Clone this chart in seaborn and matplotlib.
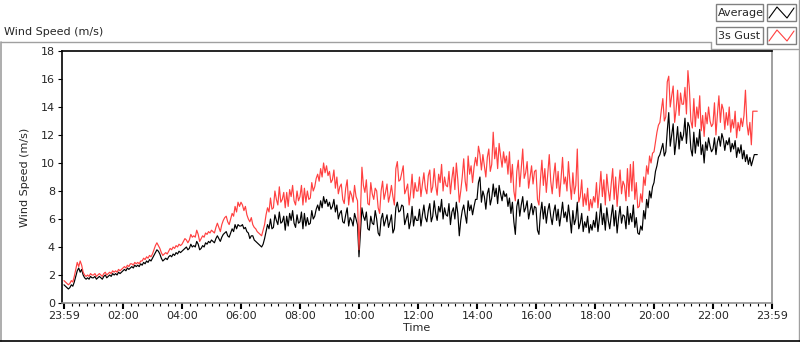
import numpy as np
import pandas as pd
import matplotlib
matplotlib.use("Agg")
import matplotlib.pyplot as plt
from matplotlib.patches import Rectangle
import seaborn as sns

# Wind speed record, one reading every 3 minutes starting 23:59
sample_step_min = 3

avg_speed = [
    1.3, 1.2, 1.1, 1.0, 1.1, 1.3, 1.2, 1.5, 1.9, 2.3, 2.5, 2.2, 2.4, 2.0, 1.8, 1.7, 1.8, 1.7, 1.9, 1.8,   # 00h
    1.8, 1.9, 1.7, 1.8, 1.9, 1.8, 1.7, 1.9, 2.0, 1.8, 1.9, 2.0, 1.9, 2.1, 2.0, 2.1, 2.0, 2.2, 2.1, 2.2,   # 01h
    2.3, 2.4, 2.3, 2.5, 2.4, 2.5, 2.6, 2.5, 2.7, 2.6, 2.7, 2.6, 2.8, 2.7, 2.9, 2.8, 3.0, 2.9, 3.1, 3.0,   # 02h
    3.2, 3.4, 3.6, 3.8, 3.7, 3.5, 3.2, 3.0, 3.1, 3.2, 3.1, 3.3, 3.4, 3.3, 3.5, 3.4, 3.6, 3.5, 3.7, 3.6,   # 03h
    3.7, 3.8, 3.9, 4.0, 3.8, 3.9, 4.2, 4.0, 4.1, 4.0, 4.4, 4.2, 3.8, 3.9, 4.1, 4.0, 4.3, 4.2, 4.4, 4.3,   # 04h
    4.5, 4.4, 4.3, 4.6, 4.8, 4.6, 4.4, 4.7, 4.9, 5.0, 5.1, 4.8, 4.7, 5.0, 5.3, 5.1, 5.6, 5.3, 5.6, 5.5,   # 05h
    5.5, 5.6, 5.3, 5.4, 5.1, 5.0, 4.6, 4.8, 4.8, 4.5, 4.4, 4.3, 4.2, 4.1, 4.0, 4.2, 4.6, 5.1, 5.6, 5.3,   # 06h
    6.0, 5.3, 5.4, 6.3, 5.9, 5.6, 6.5, 5.7, 5.8, 6.2, 5.2, 6.2, 5.5, 6.4, 5.9, 6.6, 5.7, 5.4, 6.3, 5.7,   # 07h
    5.8, 6.5, 5.3, 6.4, 5.5, 6.1, 5.6, 5.7, 6.6, 6.0, 6.2, 6.7, 7.0, 6.6, 7.3, 6.8, 7.6, 7.1, 7.4, 6.9,   # 08h
    7.2, 6.7, 6.9, 7.4, 6.5, 7.0, 6.0, 6.4, 6.6, 5.8, 5.7, 6.3, 6.8, 5.5, 6.1, 5.9, 5.5, 6.4, 6.0, 5.6,   # 09h
    3.3, 5.0, 6.8, 6.2, 5.9, 6.5, 5.3, 5.2, 6.2, 5.7, 5.6, 6.6, 6.0, 5.0, 4.8, 6.0, 6.4, 5.5, 5.9, 6.3,   # 10h
    5.4, 5.8, 6.3, 5.0, 5.3, 6.8, 7.2, 6.5, 6.6, 7.0, 6.9, 5.6, 6.0, 6.4, 5.3, 5.8, 6.9, 5.5, 6.2, 5.9,   # 11h
    5.9, 6.7, 5.5, 6.3, 7.0, 6.1, 5.8, 6.6, 7.1, 5.8, 6.2, 7.3, 6.4, 5.9, 6.9, 6.5, 7.4, 6.0, 6.8, 6.3,   # 12h
    6.2, 7.1, 5.6, 6.5, 6.8, 6.0, 7.2, 6.4, 4.8, 5.9, 6.6, 7.0, 6.3, 5.7, 7.3, 6.6, 7.0, 6.3, 6.9, 7.4,   # 13h
    7.4, 8.6, 9.0, 7.2, 8.0, 7.6, 6.7, 7.8, 8.2, 7.0, 7.5, 8.5, 7.6, 8.2, 7.1, 8.4, 7.8, 7.3, 8.0, 7.6,   # 14h
    7.8, 6.9, 7.5, 6.4, 7.2, 5.8, 4.9, 6.9, 7.4, 6.2, 7.0, 7.6, 6.5, 6.8, 7.3, 6.0, 6.6, 7.1, 6.3, 6.9,   # 15h
    6.8, 5.2, 4.9, 6.4, 7.2, 6.0, 6.9, 5.7, 6.6, 7.1, 6.2, 5.6, 6.5, 7.0, 5.9, 6.7, 5.5, 6.3, 7.2, 6.1,   # 16h
    6.5, 5.8, 7.0, 6.1, 5.0, 6.6, 5.6, 6.0, 7.2, 5.3, 5.7, 6.4, 5.1, 5.8, 5.4, 6.2, 5.0, 5.6, 5.2, 5.9,   # 17h
    5.4, 6.5, 5.1, 6.0, 7.1, 5.6, 6.4, 5.2, 6.8, 5.9, 5.3, 6.2, 7.0, 5.5, 6.6, 5.0, 6.1, 6.9, 5.7, 6.3,   # 18h
    6.2, 5.3, 6.9, 5.6, 6.4, 5.8, 7.0, 5.4, 6.1, 5.0, 4.9, 5.5, 5.2, 6.6, 6.0, 7.4, 6.8, 8.0, 7.5, 8.3,   # 19h
    8.6, 9.4, 9.8, 10.4, 10.6, 11.0, 11.4, 10.5, 10.8, 12.3, 13.6, 11.2, 12.0, 12.8, 10.6, 11.5, 12.6, 11.0, 12.2, 11.6,   # 20h
    12.0, 13.2, 11.4, 12.9, 12.6, 11.0, 10.5, 12.2, 10.7, 11.8, 11.2, 12.4, 10.6, 11.3, 10.0, 11.5, 10.9, 11.8, 11.2, 10.8,  # 21h
    11.0, 11.8, 10.6, 11.5, 11.9, 11.2, 12.1, 11.7, 10.9, 11.6, 11.3, 11.8, 10.8, 11.4, 11.0, 11.6, 10.4, 11.1, 10.7, 11.3,  # 22h
    10.3, 10.9, 10.1, 10.6, 9.9, 10.4, 9.8, 10.2, 10.6, 10.6, 10.6,                                                          # 23h
]

gust_speed = [
    1.6, 1.5, 1.4, 1.3, 1.4, 1.6, 1.5, 1.9, 2.4, 2.9, 2.6, 3.0, 2.7, 2.2, 2.0, 1.9, 2.0, 1.9, 2.1, 2.0,   # 00h
    2.0, 2.1, 1.9, 2.0, 2.1, 2.0, 1.9, 2.1, 2.2, 2.0, 2.1, 2.2, 2.1, 2.3, 2.2, 2.3, 2.2, 2.4, 2.3, 2.4,   # 01h
    2.5, 2.6, 2.5, 2.7, 2.6, 2.8, 2.8, 2.7, 2.9, 2.8, 2.9, 2.8, 3.0, 3.0, 3.2, 3.1, 3.3, 3.2, 3.4, 3.3,   # 02h
    3.5, 3.8, 4.1, 4.3, 4.1, 3.9, 3.6, 3.4, 3.5, 3.6, 3.5, 3.7, 3.9, 3.8, 4.0, 3.9, 4.1, 4.0, 4.2, 4.1,   # 03h
    4.2, 4.4, 4.6, 4.5, 4.3, 4.5, 4.9, 4.7, 4.8, 4.7, 5.2, 4.9, 4.4, 4.6, 4.8, 4.7, 5.0, 4.9, 5.1, 5.0,   # 04h
    5.2, 5.1, 5.0, 5.4, 5.7, 5.4, 5.1, 5.6, 5.9, 6.1, 6.2, 5.8, 5.6, 6.0, 6.4, 6.2, 6.9, 6.5, 7.2, 6.9,   # 05h
    7.2, 7.0, 6.6, 6.9, 6.3, 6.0, 5.8, 6.1, 5.6, 5.4, 5.3, 5.1, 5.0, 4.9, 4.8, 5.2, 5.6, 6.3, 6.8, 6.5,   # 06h
    7.5, 6.7, 6.8, 8.0, 7.4, 7.0, 8.3, 7.2, 7.4, 7.9, 6.8, 7.9, 6.9, 8.1, 7.6, 8.4, 7.3, 7.0, 8.0, 7.3,   # 07h
    7.6, 8.4, 7.0, 8.2, 7.2, 8.0, 7.4, 7.5, 8.6, 8.0, 8.3, 8.9, 9.2, 8.7, 9.6, 9.0, 10.0, 9.3, 9.8, 9.1,  # 08h
    9.4, 8.6, 8.8, 9.5, 8.2, 9.0, 7.8, 8.3, 8.5, 7.4, 7.1, 8.2, 8.8, 7.0, 8.0, 7.7, 7.2, 8.4, 7.6, 7.3,   # 09h
    3.8, 6.5, 9.7, 8.4, 7.9, 8.8, 7.1, 7.0, 8.6, 7.8, 7.4, 8.2, 8.0, 6.8, 6.4, 8.0, 8.7, 7.4, 7.9, 8.5,   # 10h
    7.2, 7.7, 8.4, 7.6, 7.0, 9.6, 10.1, 8.7, 8.8, 9.3, 9.8, 7.8, 8.1, 8.5, 7.0, 7.9, 9.2, 7.5, 8.6, 8.0,  # 11h
    8.0, 9.0, 7.6, 8.5, 9.3, 8.2, 7.8, 9.1, 9.5, 7.9, 8.3, 9.6, 8.4, 7.7, 9.2, 8.6, 9.9, 8.0, 9.0, 8.4,   # 12h
    8.3, 9.4, 7.8, 8.9, 9.7, 8.1, 10.0, 8.8, 7.2, 8.0, 9.0, 10.3, 8.7, 8.0, 10.5, 9.2, 9.8, 8.6, 9.7, 10.4,      # 13h
    9.8, 11.2, 10.6, 9.5, 10.6, 9.8, 9.0, 10.4, 11.0, 9.4, 9.9, 12.2, 10.3, 11.1, 9.6, 11.4, 10.5, 9.7, 10.8, 10.0,  # 14h
    10.5, 9.2, 10.8, 8.6, 9.9, 8.0, 7.3, 9.4, 10.2, 8.3, 9.6, 11.0, 8.9, 9.3, 10.1, 8.2, 9.0, 9.8, 8.5, 9.4,     # 15h
    9.5, 7.4, 7.0, 8.8, 10.2, 8.4, 9.6, 7.9, 9.3, 10.6, 8.7, 7.8, 9.1, 10.0, 8.2, 9.4, 7.6, 8.9, 10.4, 8.5,      # 16h
    9.0, 8.0, 10.1, 8.6, 7.4, 9.3, 7.8, 8.4, 11.0, 7.2, 7.6, 8.8, 6.9, 7.8, 7.0, 8.2, 6.6, 7.4, 6.8, 7.6,       # 17h
    7.2, 8.6, 6.8, 8.0, 9.4, 7.6, 8.8, 7.0, 9.2, 8.1, 7.3, 8.5, 9.6, 7.4, 9.0, 6.9, 8.3, 9.5, 7.8, 8.7,        # 18h
    8.4, 7.3, 9.6, 7.6, 9.9, 8.0, 10.1, 7.4, 8.6, 6.8, 6.9, 7.8, 7.2, 9.0, 8.4, 9.8, 9.2, 10.5, 10.0, 10.7,    # 19h
    10.8, 11.5, 12.2, 12.7, 12.9, 13.8, 14.6, 13.0, 13.3, 15.8, 16.2, 14.0, 14.8, 15.5, 12.9, 13.8, 15.2, 13.4, 15.0, 14.2,  # 20h
    14.2, 15.4, 13.5, 16.6, 15.3, 13.0, 12.5, 14.6, 12.6, 14.0, 13.2, 14.8, 12.3, 13.4, 11.9, 13.6, 12.8, 14.0, 13.0, 12.6,  # 21h
    12.8, 14.3, 12.0, 13.5, 14.8, 12.9, 14.2, 13.8, 12.4, 13.6, 12.7, 14.0, 12.2, 13.1, 12.5, 13.7, 11.8, 12.9, 12.3, 13.2,  # 22h
    12.6, 13.4, 15.2, 12.8, 12.0, 12.9, 11.3, 13.7, 13.7, 13.7, 13.7,                                                        # 23h
]

time_labels = ["23:59", "02:00", "04:00", "06:00", "08:00", "10:00", "12:00",
               "14:00", "16:00", "18:00", "20:00", "22:00", "23:59"]
y_ticks = [0, 2, 4, 6, 8, 10, 12, 14, 16, 18]

# minutes since the 23:59 start for each tick label (last label is the next 23:59)
def label_to_min(lbl):
    h, m = map(int, lbl.split(":"))
    return (h * 60 + m + 1) % 1440

tick_pos = [label_to_min(l) for l in time_labels[:-1]] + [1440]

df = pd.DataFrame({
    "minutes": np.arange(len(avg_speed)) * sample_step_min,
    "Average": avg_speed,
    "3s Gust": gust_speed,
})

sns.set_style("white")
plt.rcParams["font.family"] = ["DejaVu Sans"]
plt.rcParams["font.size"] = 8

W, H = 800, 342
fig = plt.figure(figsize=(W / 100, H / 100), dpi=100)
fig.patch.set_facecolor("white")

# overlay in pixel coordinates for the panel frame and legend boxes
bg = fig.add_axes([0, 0, 1, 1])
bg.set_xlim(0, W)
bg.set_ylim(H, 0)
bg.axis("off")
grey = "#a0a0a0"
bg.plot([0.5, 711], [42, 42], color=grey, lw=1)
bg.plot([711, 711], [42, 49], color=grey, lw=1)
bg.plot([711, 798], [49, 49], color=grey, lw=1)
bg.plot([0.5, 0.5], [42, 341], color=grey, lw=1.2)
bg.plot([798.5, 798.5], [0, 341], color=grey, lw=1)
bg.plot([0, 800], [341, 341], color="black", lw=1.2)
bg.text(4, 32, "Wind Speed (m/s)", fontsize=8, va="center", ha="left")

# legend entries
for i, (name, col) in enumerate([("Average", "black"), ("3s Gust", "#ff4040")]):
    top = 4 + i * 23
    bg.add_patch(Rectangle((716, top), 47, 17, fill=False, ec="#808080", lw=1))
    bg.add_patch(Rectangle((767, top), 29, 17, fill=False, ec="#808080", lw=1))
    bg.text(718, top + 9, name, fontsize=8, va="center", ha="left")
    bg.plot([769, 777, 787, 794], [top + 14, top + 3, top + 14, top + 4], color=col, lw=0.8)

# main plot area
ax = fig.add_axes([62 / W, 1 - 303 / H, (772 - 62) / W, (303 - 51) / H])
sns.lineplot(data=df, x="minutes", y="Average", color="black", lw=0.85, ax=ax)
sns.lineplot(data=df, x="minutes", y="3s Gust", color="#ff4040", lw=0.85, ax=ax)

ax.set_xlim(-4, 1440)
ax.set_ylim(0, 18)
ax.set_xticks(tick_pos)
ax.set_xticklabels(time_labels)
ax.set_xticks(np.arange(16, 1440, 15), minor=True)
ax.set_yticks(y_ticks)
ax.tick_params(axis="x", which="major", direction="out", length=4, width=1.5,
               color="black", pad=2, labelsize=8, bottom=True)
ax.tick_params(axis="x", which="minor", direction="out", length=2.5, width=0.8,
               color="black", bottom=True)
ax.tick_params(axis="y", which="major", direction="out", length=3, width=0.8,
               color="black", pad=2, labelsize=8, left=True)
ax.set_xlabel("Time", fontsize=8, labelpad=1)
ax.set_ylabel("Wind Speed (m/s)", fontsize=8, labelpad=8)
for side in ["left", "top"]:
    ax.spines[side].set_color("black")
    ax.spines[side].set_linewidth(1.2)
for side in ["right", "bottom"]:
    ax.spines[side].set_color("#909090")
    ax.spines[side].set_linewidth(1.2)

fig.savefig("out.png", dpi=100)
